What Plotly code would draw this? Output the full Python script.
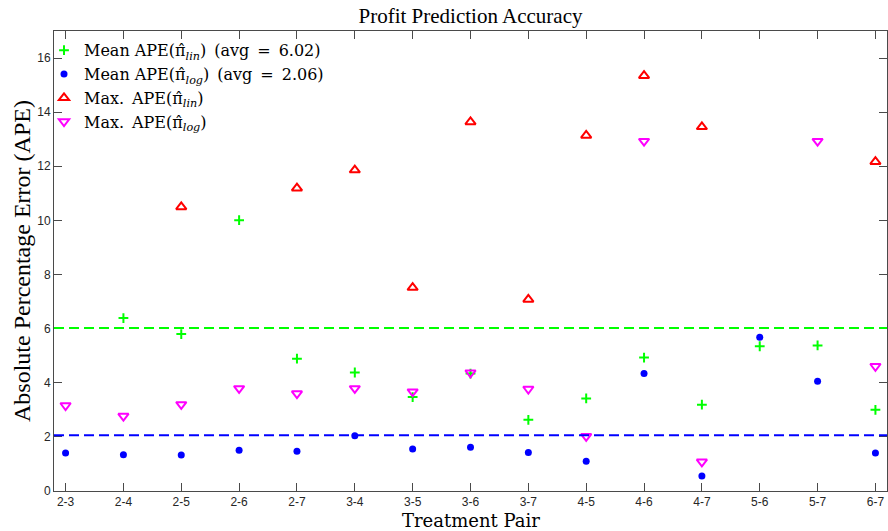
import plotly.graph_objects as go

pairs = ["2-3", "2-4", "2-5", "2-6", "2-7", "3-4", "3-5", "3-6", "3-7",
         "4-5", "4-6", "4-7", "5-6", "5-7", "6-7"]
mean_ape_lin = [22.9, 6.39, 5.80, 10.01, 4.89, 4.38, 3.47, 4.34, 2.63,
                3.42, 4.93, 3.19, 5.35, 5.38, 3.00]
mean_ape_log = [1.40, 1.34, 1.33, 1.51, 1.47, 2.04, 1.55, 1.62, 1.42,
                1.10, 4.34, 0.55, 5.68, 4.06, 1.40]
max_ape_lin = [40.0, 22.0, 10.50, 28.0, 11.19, 11.86, 7.52, 13.64, 7.08,
               13.14, 15.35, 13.46, 19.5, 18.5, 12.17]
max_ape_log = [3.16, 2.77, 3.20, 3.79, 3.60, 3.79, 3.67, 4.37, 3.77,
               2.02, 12.93, 1.08, 17.8, 12.93, 4.61]
avg_lin = 6.02
avg_log = 2.06
y_ticks = [0, 2, 4, 6, 8, 10, 12, 14, 16]

SERIF = "Liberation Serif, Times New Roman, serif"
WIDE_SERIF = "DejaVu Serif, serif"
SANS = "Liberation Sans, Arial, sans-serif"
AXC = "#4a4a4a"
SP = "\u2002"

fig = go.Figure()
fig.add_trace(go.Scatter(
    x=pairs, y=mean_ape_lin, mode="markers",
    name="Mean APE(π̂<sub><i>lin</i></sub>)" + SP + "(avg" + SP + "=" + SP + "%.2f)" % avg_lin,
    marker=dict(symbol="cross-thin", size=7, color="#00ff00",
                line=dict(color="#00ff00", width=2))))
fig.add_trace(go.Scatter(
    x=pairs, y=mean_ape_log, mode="markers",
    name="Mean APE(π̂<sub><i>log</i></sub>)" + SP + "(avg" + SP + "=" + SP + "%.2f)" % avg_log,
    marker=dict(symbol="circle", size=7, color="#0000ff",
                line=dict(width=0))))
fig.add_trace(go.Scatter(
    x=pairs, y=max_ape_lin, mode="markers",
    name="Max." + SP + "APE(π̂<sub><i>lin</i></sub>)",
    marker=dict(symbol="triangle-up-open", size=9, color="#ff0000",
                line=dict(color="#ff0000", width=2))))
fig.add_trace(go.Scatter(
    x=pairs, y=max_ape_log, mode="markers",
    name="Max." + SP + "APE(π̂<sub><i>log</i></sub>)",
    marker=dict(symbol="triangle-down-open", size=9, color="#ff00ff",
                line=dict(color="#ff00ff", width=2))))

fig.add_hline(y=avg_lin, line=dict(color="#00ff00", width=2, dash="10px,5px"))
fig.add_hline(y=avg_log, line=dict(color="#0000ff", width=2, dash="10px,5px"))

fig.update_layout(
    width=888, height=531,
    margin=dict(l=54, r=1, t=31, b=40),
    paper_bgcolor="white", plot_bgcolor="white",
    showlegend=True,
    legend=dict(x=-0.012, y=0.995, xanchor="left", yanchor="top",
                bgcolor="rgba(0,0,0,0)", borderwidth=0,
                font=dict(family=WIDE_SERIF, size=16, color="#000000"),
                tracegroupgap=0),
    title=dict(text="Profit Prediction Accuracy", x=0.5, xanchor="center",
               xref="paper",
               y=1 - 16 / 531, yanchor="middle", yref="container",
               font=dict(family=SERIF, size=21, color="#000000")),
)
fig.update_xaxes(
    type="category", categoryorder="array", categoryarray=pairs,
    range=[-0.2, 14.2], showgrid=False, zeroline=False,
    showline=True, linecolor=AXC, linewidth=1, mirror="ticks",
    ticks="inside", ticklen=8, tickcolor=AXC, tickwidth=1,
    tickfont=dict(family=SANS, size=12, color="#262626"))
fig.update_yaxes(
    range=[0, 17], tickvals=y_ticks, showgrid=False, zeroline=False,
    showline=True, linecolor=AXC, linewidth=1, mirror="ticks",
    ticks="inside", ticklen=8, tickcolor=AXC, tickwidth=1,
    tickfont=dict(family=SANS, size=12, color="#262626"))

fig.add_annotation(text="Treatment Pair", xref="paper", yref="paper",
                   x=0.5, y=-(532 - 491) / 460, xanchor="center", yanchor="bottom",
                   borderpad=0, showarrow=False,
                   font=dict(family=WIDE_SERIF, size=18, color="#000000"))
fig.add_annotation(text="Absolute Percentage Error (APE)", xref="paper", yref="paper",
                   x=-(54 - 22) / 833, y=(491 - 261) / 460, xanchor="center", yanchor="middle",
                   textangle=-90, showarrow=False,
                   font=dict(family=SERIF, size=24, color="#000000"))

fig.write_html("out.html")
